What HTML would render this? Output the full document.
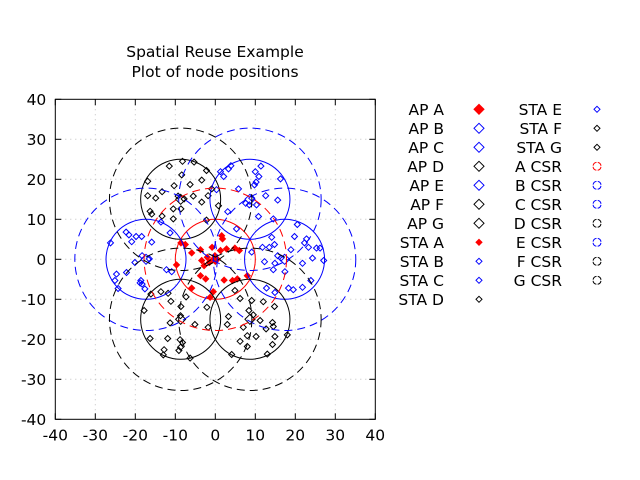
<!DOCTYPE html>
<html><head><meta charset="utf-8"><style>
html,body{margin:0;padding:0;background:#fff;}
svg{display:block;font-family:"DejaVu Sans","Liberation Sans",sans-serif;}
</style></head><body>
<svg id="chart" width="640" height="480" viewBox="0 0 640 480">
<text x="215" y="57" font-size="15.5" text-anchor="middle">Spatial Reuse Example</text>
<text x="215" y="77" font-size="15.5" text-anchor="middle">Plot of node positions</text>
<g id="grid"></g><g id="marks"></g><g id="axes"></g><g id="legend"></g>
</svg>
<script>
const xTicks=[-40,-30,-20,-10,0,10,20,30,40];
const yTicks=[-40,-30,-20,-10,0,10,20,30,40];
const apNames=["A","B","C","D","E","F","G"];
const apX=[0,17.32,8.66,-8.66,-17.32,-8.66,8.66];
const apY=[0,0,15,15,0,-15,-15];
const apColors=["#ff0000","#0000ff","#0000ff","#000000","#0000ff","#000000","#000000"];
const coverRadius=10;
const csrRadius=17.8;
const staA=[[1.6,5.9],[1.8,5.1],[-8.6,4.1],[-7.5,3.7],[-5.9,1.6],[-3.7,2.4],[-3.4,-0.3],[-2.0,0.5],[-2.8,-1.6],[-1.5,-0.8],[-0.8,3.0],[-0.1,0.9],[1.3,2.2],[2.8,2.6],[4.9,2.8],[6.0,2.2],[-9.7,-1.4],[-3.7,-4.1],[-2.4,-4.9],[2.2,-5.2],[4.3,-5.3],[5.5,-4.9],[8.0,-4.1],[-5.9,-7.2],[-1.3,-9.5],[-0.5,-8.1]];
const staB=[[20.5,8.7],[19.8,5.7],[22.8,5.1],[22.3,4.1],[23.3,3.0],[25.3,2.8],[26.2,2.8],[14.1,5.5],[14.8,3.7],[13.5,3.0],[11.8,3.0],[18.9,2.4],[15.6,0.9],[16.4,0.3],[14.9,-1.0],[12.3,-0.6],[14.5,-2.6],[17.4,-3.1],[24.3,0.3],[27.1,-0.3],[21.8,-1.0],[23.9,-5.3],[18.3,-7.2],[19.5,-7.6],[21.8,-7.0],[12.8,-7.2],[14.9,-8.3],[9.1,1.8]];
const staC=[[1.3,21.9],[2.1,20.7],[3.3,22.6],[3.9,23.4],[10.0,21.9],[11.4,23.3],[10.9,20.7],[16.3,20.1],[10.2,19.3],[9.8,18.6],[5.8,17.6],[12.6,15.9],[15.6,14.8],[7.6,14.0],[8.5,13.6],[10.3,13.6],[9.1,15.3],[10.8,10.7],[5.3,7.6],[0.3,17.4],[3.1,11.9],[14.5,10.1]];
const staD=[[-8.2,24.5],[-5.3,24.3],[-11.5,23.3],[-2.2,22.2],[-8.4,21.1],[-16.9,19.5],[-6.3,18.7],[-3.4,19.8],[-10.3,18.4],[-0.9,17.6],[-16.9,15.9],[-14.9,15.3],[-13.3,16.9],[-9.3,15.8],[-7.8,15.1],[-5.5,15.8],[-1.8,15.9],[-3.4,14.3],[0.8,13.4],[-8.6,12.6],[-16.3,12.0],[-15.9,11.3],[-10.5,12.6],[-13.3,10.8],[-10.5,10.1],[-2.2,9.8]];
const staE=[[-26.2,4.1],[-22.3,6.8],[-21.6,6.1],[-19.8,5.7],[-18.4,5.7],[-20.9,4.4],[-15.9,4.3],[-18.3,0.9],[-16.5,0.1],[-20.1,-0.8],[-12.2,-2.6],[-10.9,-3.1],[-24.7,-3.7],[-22.2,-3.3],[-25.1,-5.3],[-24.3,-7.3],[-18.6,-5.3],[-18.3,-6.2],[-17.6,-7.4],[-18.8,-5.9],[-13.6,9.3],[-11.3,6.6]];
const staF=[[-16.1,-8.7],[-13.6,-8.1],[-11.8,-8.5],[-7.3,-9.4],[-11.1,-10.5],[-8.6,-11.8],[-17.8,-12.8],[-2.1,-12.0],[-8.7,-14.1],[-11.3,-15.9],[-5.1,-16.3],[-1.8,-17.0],[-16.3,-19.8],[-11.9,-19.8],[-8.8,-20.1],[-8.2,-20.8],[-8.7,-22.0],[-12.8,-22.6],[-13.0,-23.9],[-6.3,-24.7],[-9.1,-22.8]];
const staG=[[4.9,-7.8],[6.2,-9.8],[9.1,-10.3],[12.0,-10.6],[3.3,-14.3],[8.4,-12.8],[9.5,-13.9],[14.8,-11.8],[11.2,-15.3],[12.7,-17.4],[14.3,-15.8],[14.5,-16.8],[7.0,-17.0],[3.0,-16.3],[8.0,-19.1],[10.2,-19.3],[14.9,-19.3],[18.0,-18.9],[6.2,-20.5],[8.0,-21.8],[14.3,-21.3],[4.1,-23.8],[13.0,-23.7]];
const stations=[staA,staB,staC,staD,staE,staF,staG];

const NS="http://www.w3.org/2000/svg";
const FS=15.5;
const L=55.3,R=375.3,T=99.3,B=419.3;
const sx=v=>L+(v+40)/80*(R-L);
const sy=v=>B-(v+40)/80*(B-T);
const sr=r=>r/80*(R-L);
function mk(tag,parent,attrs){const e=document.createElementNS(NS,tag);for(const k in attrs)e.setAttribute(k,attrs[k]);parent.appendChild(e);return e;}
const grid=document.getElementById('grid'),marks=document.getElementById('marks'),axes=document.getElementById('axes'),legend=document.getElementById('legend');
function diamond(parent,cx,cy,h,color,fill){
  return mk('polygon',parent,{points:`${cx},${cy-h} ${cx+h},${cy} ${cx},${cy+h} ${cx-h},${cy}`,fill:fill?color:'none',stroke:color,'stroke-width':1});
}
xTicks.forEach(v=>{
  const x=sx(v);
  if(v>-40&&v<40){const g=mk('line',grid,{x1:x,y1:T,x2:x,y2:B,stroke:'#c0c0c0','stroke-dasharray':'1,4'});
  
  }
  mk('line',axes,{x1:x,y1:B,x2:x,y2:B-6,stroke:'#000'});
  mk('line',axes,{x1:x,y1:T,x2:x,y2:T+6,stroke:'#000'});
  const t=mk('text',axes,{x:x,y:B+21,'font-size':FS,'text-anchor':'middle'});t.textContent=v;
  
  
});
yTicks.forEach(v=>{
  const y=sy(v);
  if(v>-40&&v<40){const g=mk('line',grid,{x1:L,y1:y,x2:R,y2:y,stroke:'#c0c0c0','stroke-dasharray':'1,4'});
  
  }
  mk('line',axes,{x1:L,y1:y,x2:L+6,y2:y,stroke:'#000'});
  mk('line',axes,{x1:R,y1:y,x2:R-6,y2:y,stroke:'#000'});
  const t=mk('text',axes,{x:L-9,y:y+5.5,'font-size':FS,'text-anchor':'end'});t.textContent=v;
  
  
});
const frame=mk('rect',axes,{x:L,y:T,width:R-L,height:B-T,fill:'none',stroke:'#000'});



apNames.forEach((n,i)=>{
  const a=diamond(marks,sx(apX[i]),sy(apY[i]),5,apColors[i],i===0);
  
  
});
stations.forEach((arr,i)=>{
  arr.forEach(p=>{
    const s=diamond(marks,sx(p[0]),sy(p[1]),3,apColors[i],i===0);
    
    
  });
});
apNames.forEach((n,i)=>{
  const c=mk('circle',marks,{cx:sx(apX[i]),cy:sy(apY[i]),r:sr(coverRadius),fill:'none',stroke:apColors[i],'stroke-width':1});
  
  
});
apNames.forEach((n,i)=>{
  const c=mk('circle',marks,{cx:sx(apX[i]),cy:sy(apY[i]),r:sr(csrRadius),fill:'none',stroke:apColors[i],'stroke-width':1,'stroke-dasharray':'8,5'});
  
  
});

const col1=apNames.map((n,i)=>({label:'AP '+n,type:'ap',i}));
const staItems=apNames.map((n,i)=>({label:'STA '+n,type:'sta',i}));
const csrItems=apNames.map((n,i)=>({label:n+' CSR',type:'csr',i}));
const all=col1.concat(staItems,csrItems);
all.forEach((it,k)=>{
  const col=k<11?0:1,row=k<11?k:k-11;
  const y=109.3+row*19;
  const tx=col?562:444,mx=col?597:479;
  const g=mk('g',legend,{});
  
  
  const t=mk('text',g,{x:tx,y:y+5.5,'font-size':FS,'text-anchor':'end'});t.textContent=it.label;
  const c=apColors[it.i];
  if(it.type==='ap')diamond(g,mx,y,5,c,it.i===0);
  else if(it.type==='sta')diamond(g,mx,y,3,c,it.i===0);
  else mk('circle',g,{cx:mx,cy:y,r:4,fill:'none',stroke:c,'stroke-dasharray':'5,1.3','stroke-dashoffset':'-0.6'});
});
</script>
</body></html>
